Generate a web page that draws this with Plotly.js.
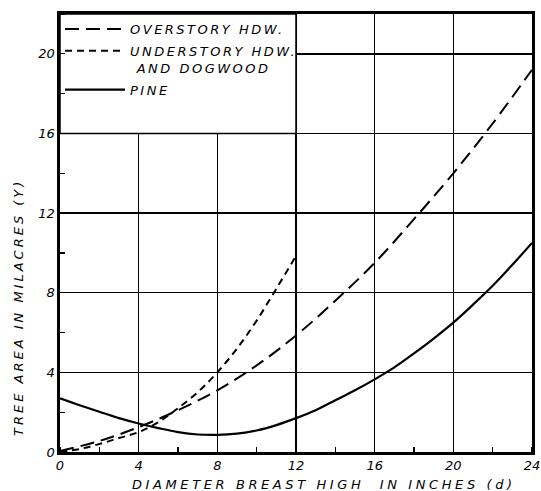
<!DOCTYPE html>
<html>
<head>
<meta charset="utf-8">
<script src="https://cdn.plot.ly/plotly-3.0.1.min.js"></script>
<style>
  html, body { margin: 0; padding: 0; background: #fff; }
  #chart { width: 541px; height: 491px; }
  g.annotation[data-index="0"] .annotation-text { letter-spacing: 3.6px; }
  g.annotation[data-index="1"] .annotation-text { letter-spacing: 3px; }
  .legendtext { letter-spacing: 2.5px; }
</style>
</head>
<body>
<div id="chart"></div>
<script>
// Diameter breast high (inches)
const xTicks = [0, 4, 8, 12, 16, 20, 24];
const yTicks = [0, 4, 8, 12, 16, 20];

const overstoryD = [0, 2, 4, 6, 8, 10, 12, 14, 16, 18, 20, 22, 24];
const overstoryY = [0.05, 0.55, 1.25, 2.1, 3.1, 4.35, 5.85, 7.6, 9.5, 11.7, 14.0, 16.5, 19.2];

const understoryD = [0, 1, 2, 3, 4, 5, 6, 7, 8, 9, 10, 11, 12];
const understoryY = [0.0, 0.15, 0.4, 0.7, 1.0, 1.5, 2.2, 3.0, 4.0, 5.2, 6.6, 8.2, 9.85];

const pineD = [0, 1, 2, 3, 4, 5, 6, 7, 8, 9, 10, 11, 12, 13, 14, 15, 16, 17, 18, 19, 20, 21, 22, 23, 24];
const pineY = [2.7, 2.35, 2.02, 1.7, 1.43, 1.2, 1.0, 0.88, 0.86, 0.92, 1.08, 1.35, 1.7, 2.1, 2.6, 3.1, 3.65, 4.25, 4.95, 5.7, 6.5, 7.4, 8.35, 9.4, 10.5];

const names = ["OVERSTORY HDW.", "UNDERSTORY HDW.<br>\u00a0AND DOGWOOD", "PINE"];

const FONT = "DejaVu Sans, Liberation Sans, sans-serif";

const traces = [
  { x: overstoryD, y: overstoryY, name: names[0], legendgroup: "a", mode: "lines",
    line: { color: "#000", width: 2, dash: "14px,7px", shape: "spline" } },
  { x: understoryD, y: understoryY, name: names[1], legendgroup: "b", mode: "lines",
    line: { color: "#000", width: 2, dash: "7px,5px", shape: "spline" } },
  { x: pineD, y: pineY, name: names[2], legendgroup: "c", mode: "lines",
    line: { color: "#000", width: 2.2, shape: "spline" } }
];

const axisCommon = {
  showgrid: true, gridcolor: "#000", gridwidth: 1.5,
  showline: true, linecolor: "#000", linewidth: 2.6, mirror: true,
  zeroline: false, ticks: "", fixedrange: true,
  tickfont: { family: FONT, size: 13, style: "italic", color: "#000" },
  minor: { ticks: "inside", ticklen: 5, tickwidth: 1.3, tickcolor: "#000", dtick: 2, showgrid: false }
};

const layout = {
  width: 541, height: 491,
  margin: { l: 60, r: 9, t: 14, b: 39 },
  paper_bgcolor: "#fff", plot_bgcolor: "#fff",
  font: { family: FONT, color: "#000" },
  xaxis: Object.assign({}, axisCommon, {
    range: [0, 24], tickmode: "array", tickvals: xTicks, ticktext: xTicks.map(String)
  }),
  yaxis: Object.assign({}, axisCommon, {
    range: [0, 22], tickmode: "array", tickvals: yTicks, ticktext: yTicks.map(String)
  }),
  showlegend: true,
  legend: {
    x: 0, xanchor: "left", y: 1, yanchor: "top",
    bgcolor: "rgba(0,0,0,0)", borderwidth: 0,
    itemwidth: 60, valign: "top", tracegroupgap: 2,
    font: { family: FONT, size: 13, style: "italic", color: "#000" }
  },
  shapes: [
    { type: "rect", xref: "x", yref: "y", x0: 0, x1: 12, y0: 16, y1: 22,
      fillcolor: "#fff", line: { color: "#000", width: 1.5 }, layer: "between" }
  ],
  annotations: [
    { text: "DIAMETER BREAST HIGH  IN INCHES (d)", xref: "paper", yref: "paper",
      x: 0.559, y: -0.075, xanchor: "center", yanchor: "middle", showarrow: false,
      font: { family: FONT, size: 13, style: "italic", color: "#000" } },
    { text: "TREE AREA IN MILACRES (Y)", xref: "paper", yref: "paper",
      x: -0.088, y: 0.331, xanchor: "center", yanchor: "middle", showarrow: false,
      textangle: -90,
      font: { family: FONT, size: 13, style: "italic", color: "#000" } }
  ]
};

Plotly.newPlot("chart", traces, layout, { displayModeBar: false, staticPlot: true });
</script>
</body>
</html>
